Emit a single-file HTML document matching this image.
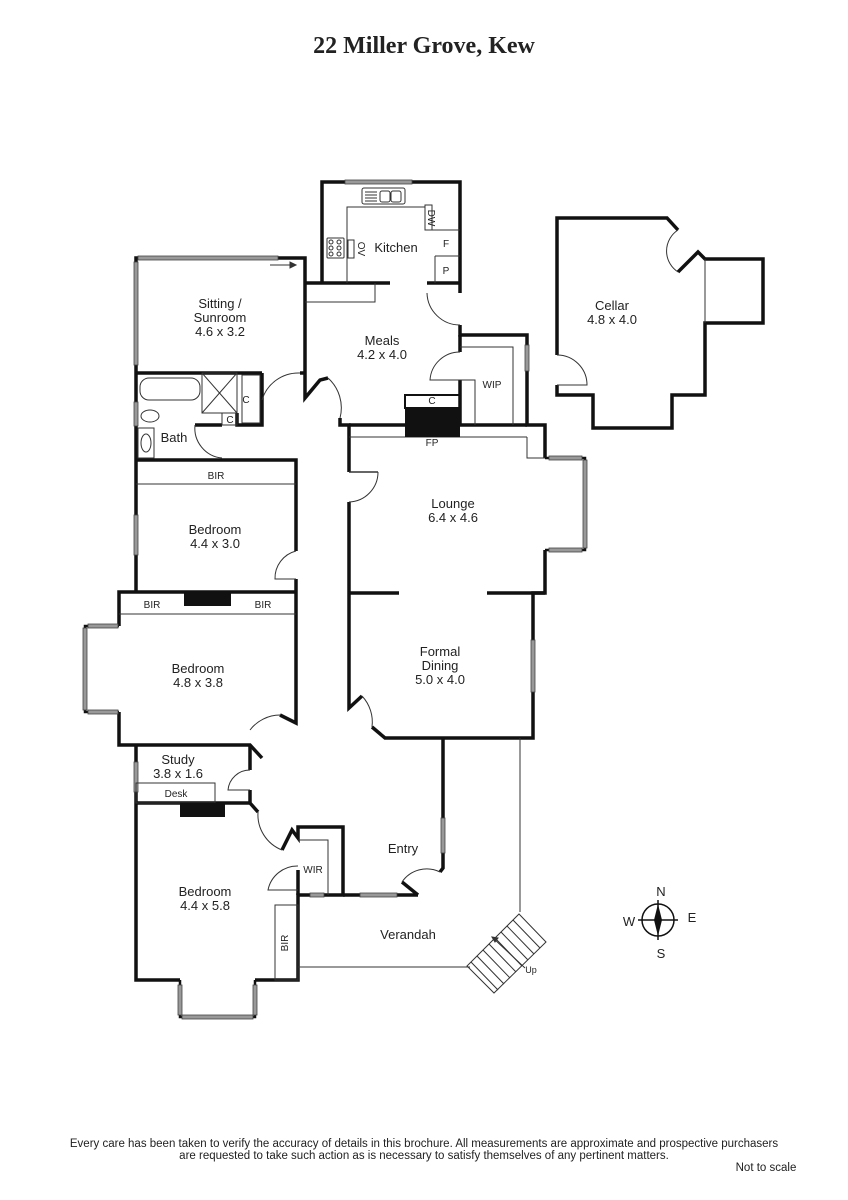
<!DOCTYPE html>
<html><head><meta charset="utf-8"><style>
body{margin:0;background:#fff;}
svg{display:block}
text{font-family:"Liberation Sans",sans-serif;fill:#222}
</style></head><body>
<svg width="848" height="1200" viewBox="0 0 848 1200" xmlns="http://www.w3.org/2000/svg">
<text x="424" y="53" text-anchor="middle" style="font-family:'Liberation Serif',serif;font-weight:bold;font-size:24px" fill="#111">22 Miller Grove, Kew</text>

<g fill="none" stroke="#111" stroke-width="3.5" stroke-linejoin="miter">
<polyline points="322,283 322,182 460,182 460,293"/>
<polyline points="460,325 460,335 527,335 527,425 545,425 545,458"/>
<polyline points="545,550 545,593 533,593 533,738 385,738 372,727"/>
<line x1="305" y1="283" x2="390" y2="283"/>
<line x1="427" y1="283" x2="460" y2="283"/>
<polyline points="305,283 305,258 136,258 136,460"/>
<polyline points="305,283 305,398 320,380 328,378"/>
<polyline points="340,418 340,425 349,425 349,472"/>
<polyline points="349,502 349,708 362,696"/>
<line x1="349" y1="425" x2="527" y2="425"/>
<polyline points="460,380 460,425"/>
<line x1="460" y1="335" x2="460" y2="352"/>
<polyline points="136,373 262,373"/>
<line x1="300" y1="373" x2="305" y2="373"/>
<polyline points="262,373 262,425 237,425 237,413"/>
<line x1="222" y1="425" x2="195" y2="425"/>
<polyline points="136,460 296,460 296,551"/>
<polyline points="296,579 296,723 280,715"/>
<line x1="136" y1="460" x2="136" y2="592"/>
<polyline points="119,614 119,592 296,592"/>
<polyline points="119,614 119,626"/>
<polyline points="119,712 119,745 250,745 262,758"/>
<polyline points="136,745 136,980 180,980"/>
<polyline points="255,980 298,980 298,895 343,895 343,827 298,827 298,838 292,830 282,850"/>
<polyline points="250,745 250,770"/>
<polyline points="250,790 250,803 258,812"/>
<line x1="136" y1="803" x2="250" y2="803"/>
<polyline points="298,870 298,895"/>
<line x1="343" y1="895" x2="418" y2="895"/>
<polyline points="418,895 402,882"/>
<polyline points="443,738 443,868 440,872"/>
<line x1="349" y1="593" x2="399" y2="593"/>
<line x1="487" y1="593" x2="545" y2="593"/>
<polyline points="557,355 557,218 667,218 678,230"/>
<polyline points="678,272 698,252 705,259 763,259 763,323 705,323 705,395 672,395 672,428 593,428 593,395 557,395 557,385"/>
</g>
<g fill="none" stroke="#111" stroke-width="2.5">
<polyline points="545,458 585,458 585,550 545,550"/>
<polyline points="119,626 85,626 85,712 119,712"/>
<polyline points="180,980 180,1017 255,1017 255,980"/>
</g>
<g fill="#999" stroke="#444" stroke-width="0.8">
<rect x="345" y="180" width="67" height="4"/>
<rect x="138" y="256" width="140" height="4"/>
<rect x="134" y="262" width="4" height="103"/>
<rect x="134" y="402" width="4" height="24"/>
<rect x="134" y="515" width="4" height="40"/>
<rect x="525" y="345" width="4" height="26"/>
<rect x="549" y="456" width="33" height="4"/>
<rect x="583" y="460" width="4" height="88"/>
<rect x="549" y="548" width="33" height="4"/>
<rect x="531" y="640" width="4" height="52"/>
<rect x="88" y="624" width="30" height="4"/>
<rect x="83" y="628" width="4" height="82"/>
<rect x="88" y="710" width="30" height="4"/>
<rect x="134" y="762" width="4" height="30"/>
<rect x="441" y="818" width="4" height="35"/>
<rect x="310" y="893" width="14" height="4"/>
<rect x="360" y="893" width="37" height="4"/>
<rect x="178" y="985" width="4" height="30"/>
<rect x="253" y="985" width="4" height="30"/>
<rect x="182" y="1015" width="71" height="4"/>
</g>
<g fill="none" stroke="#333" stroke-width="1">
<polyline points="347,283 347,207 425,207"/>
<rect x="425" y="205" width="7" height="25"/>
<polyline points="432,230 460,230"/>
<polyline points="435,256 460,256"/><line x1="435" y1="256" x2="435" y2="283"/>
<rect x="362" y="188" width="43" height="16" rx="2"/>
<rect x="380" y="191" width="10" height="11" rx="2"/><rect x="391" y="191" width="10" height="11" rx="2"/>
<line x1="365" y1="192" x2="377" y2="192"/><line x1="365" y1="195" x2="377" y2="195"/><line x1="365" y1="198" x2="377" y2="198"/><line x1="365" y1="201" x2="377" y2="201"/>
<rect x="327" y="238" width="17" height="20" rx="1"/>
<circle cx="331" cy="242" r="2"/><circle cx="339" cy="242" r="2"/><circle cx="331" cy="248" r="2"/><circle cx="339" cy="248" r="2"/><circle cx="331" cy="254" r="2"/><circle cx="339" cy="254" r="2"/>
<rect x="348" y="240" width="6" height="18"/>
<polyline points="305,302 375,302 375,283"/>
<polyline points="460,347 513,347 513,425"/>
<polyline points="460,380 475,380 475,425"/>
<path d="M427,293 A33,33 0 0 0 460,325"/>
<path d="M460,352 A30,30 0 0 0 430,380 L460,380"/>
<path d="M262,400 A38,38 0 0 1 300,373"/>
<path d="M328,378 A40,40 0 0 1 340,418"/>
<rect x="140" y="378" width="60" height="22" rx="9"/>
<rect x="202" y="373" width="35" height="40"/>
<line x1="202" y1="373" x2="237" y2="413"/><line x1="237" y1="373" x2="202" y2="413"/>
<rect x="222" y="413" width="15" height="12"/>
<rect x="242" y="375" width="18" height="48"/>
<ellipse cx="150" cy="416" rx="9" ry="6"/>
<rect x="138" y="428" width="16" height="30"/><ellipse cx="146" cy="443" rx="5" ry="9"/>
<path d="M195,425 A30,30 0 0 0 222,458"/>
<line x1="136" y1="484" x2="296" y2="484"/>
<path d="M296,551 A28,28 0 0 0 275,579 L296,579"/>
<line x1="119" y1="614" x2="296" y2="614"/>
<line x1="349" y1="437" x2="527" y2="437"/><polyline points="527,437 527,458 545,458"/>
<line x1="349" y1="472" x2="378" y2="472" stroke-width="1.5"/>
<path d="M378,472 A30,30 0 0 1 349,502"/>
<path d="M362,696 A38,38 0 0 1 372,727"/>
<path d="M280,715 A38,38 0 0 0 250,730"/>
<rect x="136" y="783" width="79" height="20"/>
<path d="M250,770 A22,22 0 0 0 228,790 L250,790"/>
<path d="M258,812 A38,38 0 0 0 282,850"/>
<polyline points="298,840 328,840 328,895"/>
<path d="M298,866 A30,30 0 0 0 268,890 L298,890"/>
<rect x="275" y="905" width="23" height="75"/>
<path d="M402,882 A30,30 0 0 1 440,872"/>
<line x1="520" y1="738" x2="520" y2="912"/>
<line x1="298" y1="967" x2="470" y2="967"/>
<line x1="705" y1="259" x2="705" y2="323"/>
<path d="M678,230 A25,25 0 0 0 678,272"/>
<path d="M557,355 A30,30 0 0 1 587,385 L557,385"/>
</g>
<g stroke="#333" stroke-width="1" fill="none">
<polygon points="519,914 546,942 494,993 467,966"/>
<line x1="513" y1="920" x2="540" y2="948"/><line x1="507" y1="926" x2="534" y2="954"/>
<line x1="501" y1="932" x2="528" y2="960"/><line x1="495" y1="938" x2="522" y2="966"/>
<line x1="489" y1="944" x2="516" y2="972"/><line x1="483" y1="950" x2="510" y2="978"/>
<line x1="477" y1="956" x2="504" y2="984"/><line x1="471" y1="962" x2="498" y2="990"/>
<line x1="525" y1="968" x2="492" y2="937"/>
<polygon points="492,937 498,938 495,942" fill="#333"/>
<line x1="270" y1="265" x2="292" y2="265"/>
<polygon points="296,265 290,262 290,268" fill="#333"/>
</g>
<rect x="405" y="408" width="55" height="29" fill="#111"/>
<rect x="405" y="395" width="55" height="13" fill="none" stroke="#111" stroke-width="2"/>
<rect x="184" y="592" width="47" height="14" fill="#111"/>
<rect x="180" y="803" width="45" height="14" fill="#111"/>
<g font-size="13" text-anchor="middle">
<text x="396" y="252">Kitchen</text>
<text x="220" y="308">Sitting /</text><text x="220" y="322">Sunroom</text><text x="220" y="336">4.6 x 3.2</text>
<text x="382" y="345">Meals</text><text x="382" y="359">4.2 x 4.0</text>
<text x="612" y="310">Cellar</text><text x="612" y="324">4.8 x 4.0</text>
<text x="453" y="508">Lounge</text><text x="453" y="522">6.4 x 4.6</text>
<text x="440" y="656">Formal</text><text x="440" y="670">Dining</text><text x="440" y="684">5.0 x 4.0</text>
<text x="215" y="534">Bedroom</text><text x="215" y="548">4.4 x 3.0</text>
<text x="198" y="673">Bedroom</text><text x="198" y="687">4.8 x 3.8</text>
<text x="178" y="764">Study</text><text x="178" y="778">3.8 x 1.6</text>
<text x="205" y="896">Bedroom</text><text x="205" y="910">4.4 x 5.8</text>
<text x="403" y="853">Entry</text>
<text x="408" y="939">Verandah</text>
<text x="174" y="442">Bath</text>
</g>
<g font-size="10" text-anchor="middle">
<text x="216" y="479">BIR</text><text x="152" y="608">BIR</text><text x="263" y="608">BIR</text>
<text x="176" y="797">Desk</text><text x="313" y="873">WIR</text><text x="492" y="388">WIP</text>
<text x="432" y="404">C</text><text x="432" y="446">FP</text>
<text x="246" y="403">C</text><text x="230" y="423">C</text>
<text x="446" y="247">F</text><text x="446" y="274">P</text>
<text x="288" y="943" transform="rotate(-90 288 943)">BIR</text>
<text x="428" y="218" transform="rotate(90 428 218)">DW</text>
<text x="358" y="249" transform="rotate(90 358 249)">OV</text>
<text x="531" y="973" font-size="9">Up</text>
</g>
<g stroke="#111" stroke-width="1.5" fill="none">
<circle cx="658" cy="920" r="16"/>
<line x1="658" y1="900" x2="658" y2="940"/><line x1="638" y1="920" x2="678" y2="920"/>
</g>
<polygon points="658,904 662,920 658,936 654,920" fill="#111"/>
<g font-size="13" text-anchor="middle"><text x="661" y="896">N</text><text x="661" y="958">S</text><text x="629" y="926">W</text><text x="692" y="922">E</text></g>
<g font-size="11.5" text-anchor="middle" fill="#222">
<text x="424" y="1147">Every care has been taken to verify the accuracy of details in this brochure.  All measurements are approximate and prospective purchasers</text>
<text x="424" y="1159">are requested to take such action as is necessary to satisfy themselves of any pertinent matters.</text>
<text x="766" y="1171">Not to scale</text>
</g>
</svg>
</body></html>
